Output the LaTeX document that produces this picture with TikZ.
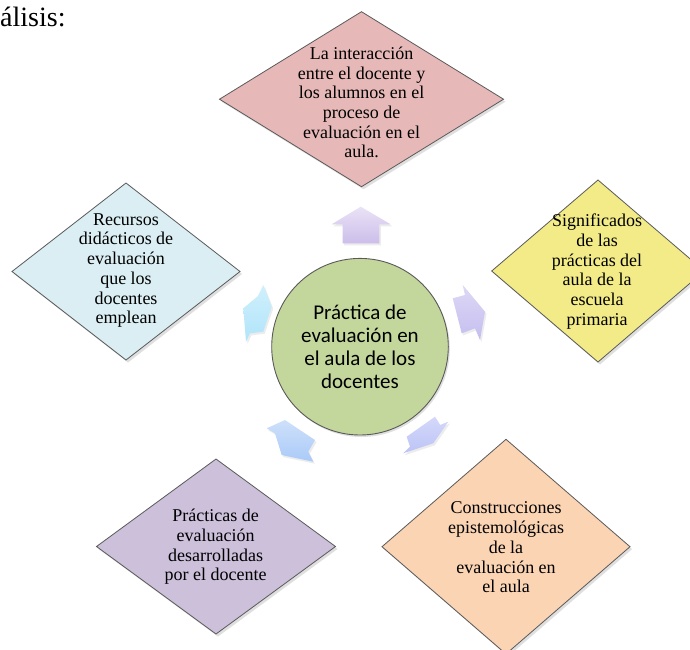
\documentclass[tikz,border=0pt]{standalone}
\usepackage{fontspec}
\setmainfont{Liberation Serif}
\newfontfamily\calibfont{Carlito}
\usetikzlibrary{shadows}
\definecolor{pinkfill}{HTML}{E6B9B8}
\definecolor{yellowfill}{HTML}{F2EB88}
\definecolor{bluefill}{HTML}{DAEEF3}
\definecolor{lavfill}{HTML}{CCC0DA}
\definecolor{orangefill}{HTML}{FBD4B4}
\definecolor{greenfill}{HTML}{C3D69B}
\definecolor{edgegray}{HTML}{5A5A5A}
\tikzset{
  dia/.style={draw=edgegray, line width=0.8pt, line join=miter,
    drop shadow={shadow xshift=2pt, shadow yshift=-2.5pt, opacity=0.25}},
  diatext/.style={font=\fontsize{18}{19.7}\selectfont, align=center, inner sep=0pt, text=black},
  arrowshape/.style={draw=none,
    drop shadow={shadow xshift=1.5pt, shadow yshift=-2pt, opacity=0.15}},
}
\begin{document}
\begin{tikzpicture}[x=1pt,y=-1pt]
\useasboundingbox (0,0) rectangle (690,649);
\fill[white] (0,0) rectangle (690,649);

% title fragment
\node[anchor=base west, inner sep=0pt, font=\fontsize{28}{30}\selectfont] (title) at (0,26.7) {álisis:};

% diamonds
\path[dia, fill=pinkfill]   (361.5,11.7) -- (503.5,99.2) -- (361.5,186.7) -- (219.5,99.2) -- cycle;
\path[dia, fill=yellowfill] (598,180) -- (704.3,271) -- (598,362) -- (491.7,271) -- cycle;
\path[dia, fill=bluefill]   (126,183) -- (240,271.5) -- (126,360) -- (12,271.5) -- cycle;
\path[dia, fill=lavfill]    (216,459) -- (335.5,546.5) -- (216,634) -- (96.5,546.5) -- cycle;
\path[dia, fill=orangefill] (506,439.3) -- (630,546.7) -- (506,654) -- (382,546.7) -- cycle;

% arrows
\path[arrowshape, top color={rgb,255:red,234;green,226;blue,246}, bottom color={rgb,255:red,204;green,190;blue,234}]
  (360.7,206.7) -- (390.7,224.3) -- (379.3,224.3) -- (379.3,243.3) -- (342.7,243.3) -- (342.7,224.3) -- (331.7,224.3) -- cycle;
\path[arrowshape, top color={rgb,255:red,222;green,216;blue,246}, bottom color={rgb,255:red,196;green,190;blue,240}]
  (462.7,285) -- (485,311.7) -- (480,340) -- (475,328.3) -- (461.7,333.3) -- (452.7,298.3) -- (465,295) -- cycle;
\path[arrowshape, top color={rgb,255:red,212;green,216;blue,250}, bottom color={rgb,255:red,188;green,196;blue,246}]
  (406.7,436.7) -- (435,416.7) -- (440,425) -- (448.3,421.7) -- (433.3,443.3) -- (403.3,453.3) -- (410,446.7) -- cycle;
\path[arrowshape, top color={rgb,255:red,206;green,224;blue,250}, bottom color={rgb,255:red,170;green,202;blue,248}]
  (285,420) -- (315,440) -- (308.3,451.7) -- (313.3,461.7) -- (281.7,455) -- (275,433.3) -- (266.7,428.3) -- cycle;
\path[arrowshape, top color={rgb,255:red,208;green,240;blue,252}, bottom color={rgb,255:red,176;green,228;blue,250}]
  (263.3,285) -- (271.7,306.7) -- (263.3,331.7) -- (250,333.3) -- (246,341.7) -- (243.3,308.3) -- (258,296) -- cycle;

% centre circle
\node[circle, minimum size=176.6pt, inner sep=0pt, fill=greenfill, draw=edgegray, line width=0.9pt,
      drop shadow={shadow xshift=1.5pt, shadow yshift=-2pt, opacity=0.25},
      font=\calibfont\fontsize{21}{23}\selectfont, align=center] (c) at (360,346.7)
  {Práctica de\\evaluación en\\el aula de los\\docentes};

% diamond texts
\node[diatext] (t1) at (361.7,102.5) {La interacción\\entre el docente y\\los alumnos en el\\proceso de\\evaluación en el\\aula.};
\node[diatext] (t2) at (597,271.5) {Significados\\de las\\prácticas del\\aula de la\\escuela\\primaria};
\node[diatext] (t3) at (126,270.5) {Recursos\\didácticos de\\evaluación\\que los\\docentes\\emplean};
\node[diatext] (t4) at (215.7,547) {Prácticas de\\evaluación\\desarrolladas\\por el docente};
\node[diatext] (t5) at (506,547.5) {Construcciones\\epistemológicas\\de la\\evaluación en\\el aula};
\end{tikzpicture}
\end{document}
